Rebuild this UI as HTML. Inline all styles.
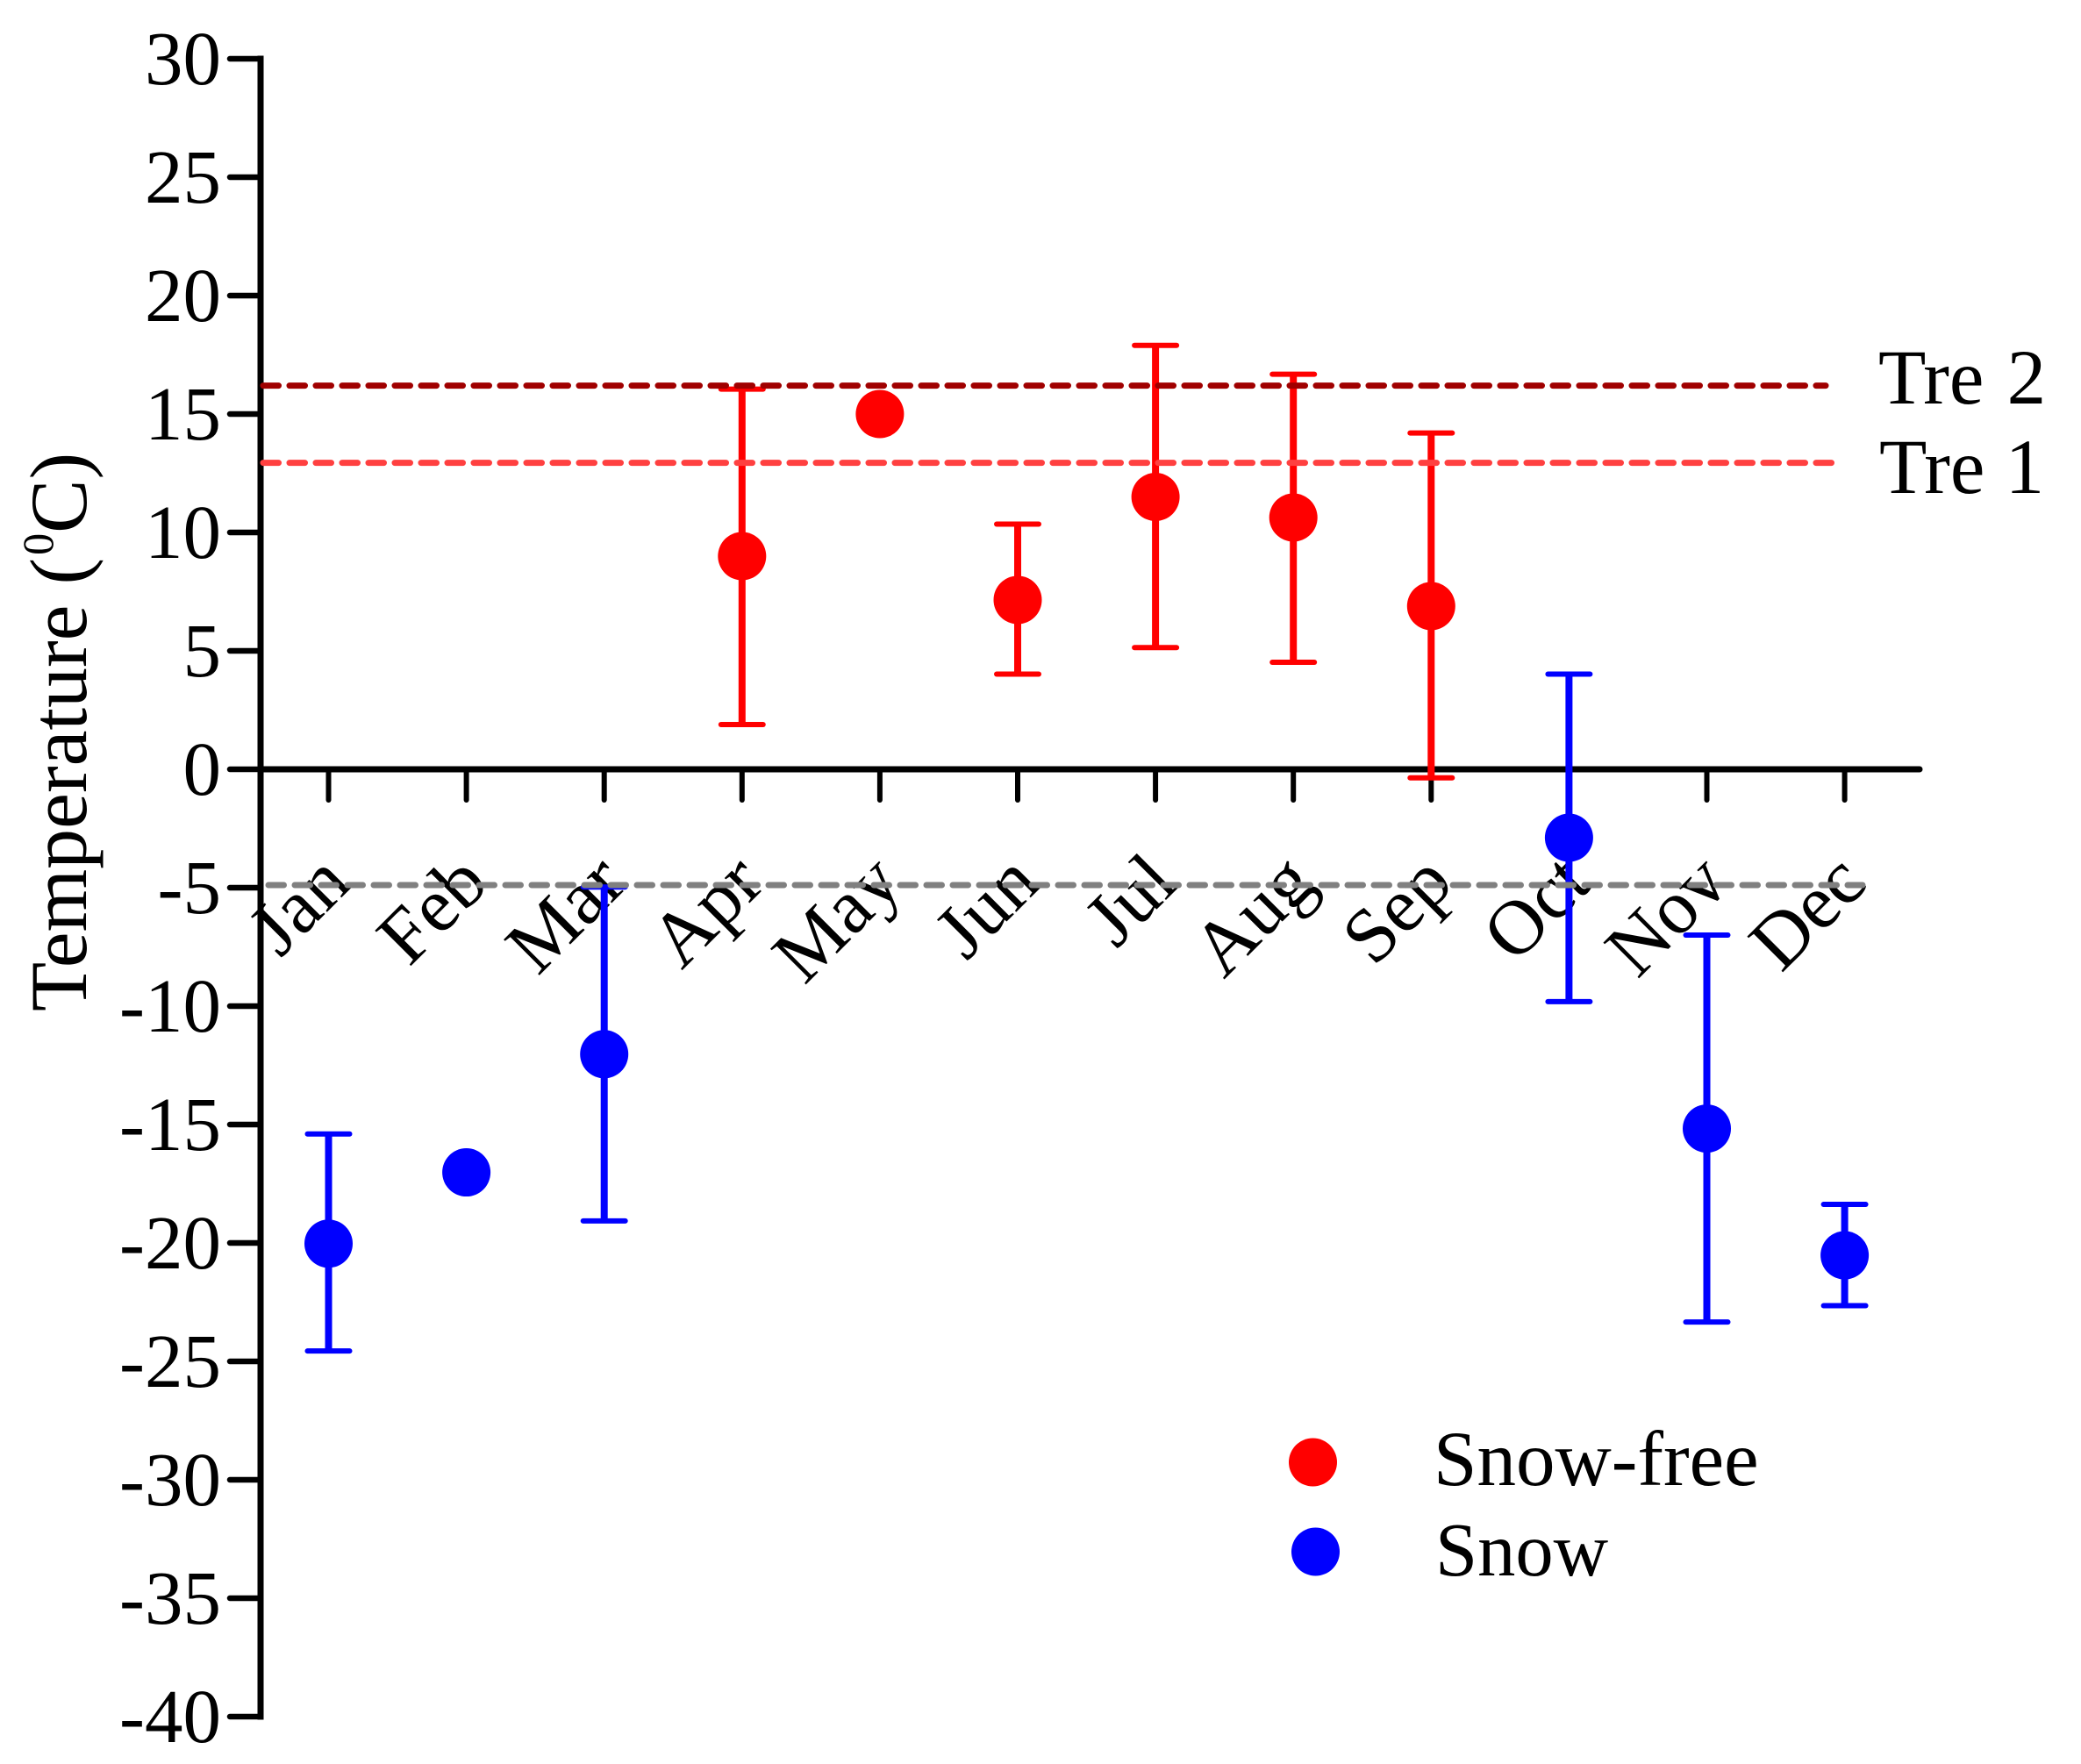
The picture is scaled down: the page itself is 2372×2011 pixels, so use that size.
<!DOCTYPE html>
<html lang="en">
<head>
<meta charset="utf-8">
<title>Monthly temperature</title>
<style>
html,body{margin:0;padding:0;background:#fff;}
svg{display:block;}
text{font-family:"Liberation Serif","Times New Roman",serif;fill:#000;}
</style>
</head>
<body>
<svg id="chart" xmlns="http://www.w3.org/2000/svg" width="2372" height="2011" viewBox="0 0 2372 2011">
<rect x="0" y="0" width="2372" height="2011" fill="#ffffff"/>
<text transform="translate(98,1153) rotate(-90)" font-size="92">Temperature (<tspan font-size="50" dx="3" dy="-38">0</tspan><tspan dy="38">C)</tspan></text>
<text x="2141" y="460" font-size="89" word-spacing="4">Tre 2</text>
<text x="2142" y="562" font-size="89" word-spacing="1">Tre 1</text>
<circle cx="1496.5" cy="1667" r="27.5" fill="#ff0000"/>
<text x="1634" y="1693" font-size="89">Snow-free</text>
<circle cx="1499.5" cy="1769" r="27.5" fill="#0000ff"/>
<text x="1636" y="1796" font-size="86.5">Snow</text>
</svg>
<script>
const months = ['Jan','Feb','Mar','Apr','May','Jun','Jul','Aug','Sep','Oct','Nov','Dec'];
const yTickValues = [30,25,20,15,10,5,0,-5,-10,-15,-20,-25,-30,-35,-40];
const snowFreeMean = [null,null,null,9.0,15.0,7.15,11.5,10.63,6.89,null,null,null];
const snowFreeHigh = [null,null,null,16.05,null,10.35,17.9,16.68,14.2,null,null,null];
const snowFreeLow  = [null,null,null,1.89,null,4.02,5.14,4.52,-0.36,null,null,null];
const snowMean = [-20.03,-17.02,-12.03,null,null,null,null,null,null,-2.89,-15.17,-20.52];
const snowHigh = [-15.4,null,-4.97,null,null,null,null,null,null,4.02,-7.0,-18.37];
const snowLow  = [-24.56,null,-19.07,null,null,null,null,null,null,-9.81,-23.34,-22.65];
const tre2Value = 16.2;
const tre1Value = 12.94;
const snowLineValue = -4.89;

const NS = 'http://www.w3.org/2000/svg';
const svg = document.getElementById('chart');
const yScale = function (v) { return 877 - 27 * v; };
const xScale = function (i) { return 374.5 + 157.1 * i; };

function make(tag, attrs, parent) {
  const node = document.createElementNS(NS, tag);
  Object.keys(attrs).forEach(function (k) { node.setAttribute(k, attrs[k]); });
  (parent || svg).appendChild(node);
  return node;
}

function strokeLine(x1, y1, x2, y2, color, width, dash) {
  const attrs = {x1: x1, y1: y1, x2: x2, y2: y2, stroke: color, 'stroke-width': width, 'stroke-linecap': 'round'};
  if (dash) { attrs['stroke-dasharray'] = dash; }
  return make('line', attrs);
}

/* month labels sit underneath everything else */
months.forEach(function (m, i) {
  const ax = xScale(i) + 28;
  const ay = 1010;
  const label = make('text', {x: ax, y: ay, 'font-size': 88, 'text-anchor': 'end', transform: 'rotate(-45 ' + ax + ' ' + ay + ')'});
  label.textContent = m;
  
  
});

/* y axis and ticks */
const yAxis = strokeLine(297, yScale(30), 297, yScale(-40), '#000', 7);
yAxis.setAttribute('stroke-linecap', 'square');



yTickValues.forEach(function (v) {
  const tick = strokeLine(262, yScale(v), 297, yScale(v), '#000', 6.5);
  
  
  const label = make('text', {x: 252, y: yScale(v) + 29, 'font-size': 87, 'text-anchor': 'end'});
  label.textContent = String(v);
  
  
});

/* x axis and ticks */
const xAxis = strokeLine(297, yScale(0), 2188, yScale(0), '#000', 7);



months.forEach(function (m, i) {
  const tick = strokeLine(xScale(i), yScale(0), xScale(i), 912, '#000', 6);
  
  
});

/* series */
function drawSeries(prefix, color, means, highs, lows) {
  means.forEach(function (mean, i) {
    if (mean === null) { return; }
    const x = xScale(i);
    const key = prefix + '-' + months[i].toLowerCase();
    if (highs[i] !== null && lows[i] !== null) {
      const stem = strokeLine(x, yScale(highs[i]), x, yScale(lows[i]), color, 8);
      stem.setAttribute('stroke-linecap', 'butt');
      
      
      const capTop = strokeLine(x - 24, yScale(highs[i]), x + 24, yScale(highs[i]), color, 6);
      
      
      const capBottom = strokeLine(x - 24, yScale(lows[i]), x + 24, yScale(lows[i]), color, 6);
      
      
    }
    const dot = make('circle', {cx: x, cy: yScale(mean), r: 27.5, fill: color});
    
    
  });
}
drawSeries('snow-free', '#ff0000', snowFreeMean, snowFreeHigh, snowFreeLow);
drawSeries('snow', '#0000ff', snowMean, snowHigh, snowLow);

/* reference lines */
const tre2Line = strokeLine(300, yScale(tre2Value), 2081, yScale(tre2Value), '#a00000', 7, '17.5 12.5');



const tre1Line = strokeLine(300, yScale(tre1Value), 2090, yScale(tre1Value), '#ff4040', 7, '17.5 12.5');



const snowLine = strokeLine(306, yScale(snowLineValue), 2123, yScale(snowLineValue), '#808080', 7, '17.5 12.5');


</script>
</body>
</html>
